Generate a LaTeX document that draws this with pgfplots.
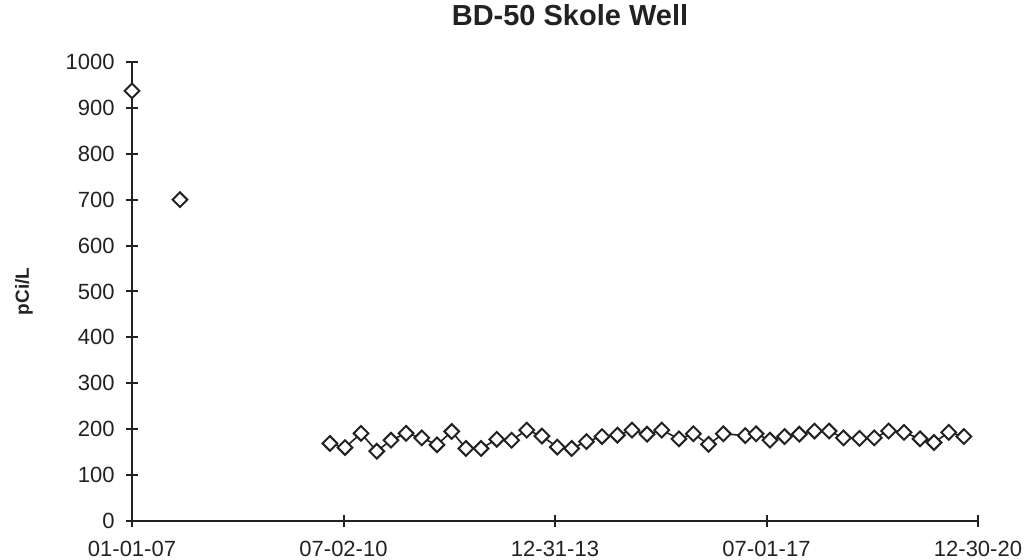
\documentclass[border=0pt]{standalone}
\usepackage{fontspec}
\setmainfont{Liberation Sans}
\usepackage{pgfplots}
\pgfplotsset{compat=1.18}

% days since 01-01-07
\pgfplotstableread{
d v
0 937
290 700
}\early
\pgfplotstableread{
d v
1196 169
1287 160
1384 191
1479 152
1565 176
1656 191
1751 181
1843 166
1932 195
2018 158
2109 158
2204 178
2294 176
2385 198
2477 185
2570 161
2657 158
2746 173
2840 184
2933 187
3021 198
3112 189
3201 198
3305 179
3392 190
3484 167
3573 190
3706 186
3771 190
3855 176
3943 184
4032 189
4124 196
4212 196
4299 181
4396 180
4485 181
4572 196
4665 193
4762 179
4846 171
4935 193
5027 184
}\later

\definecolor{ink}{HTML}{222222}

\begin{document}
\begin{tikzpicture}
\path[use as bounding box] (-66pt,-19.5pt) rectangle (446pt,260.5pt);
\begin{axis}[
    at={(0pt,0pt)}, anchor=south west,
    scale only axis,
    width=423pt, height=229.5pt,
    xmin=0, xmax=5112,
    ymin=0, ymax=1000,
    axis lines=left,
    axis line style={-, line width=1pt, ink},
    tick align=center,
    major tick length=6.3pt,
    tick style={line width=1pt, ink},
    xtick={0,1278,2556,3834,5112},
    xticklabels={01-01-07,07-02-10,12-31-13,07-01-17,12-30-20},
    ytick={0,100,...,1000},
    /pgf/number format/assume math mode=true,
    /pgf/number format/set thousands separator={},
    ticklabel style={font=\fontsize{11}{13}\selectfont, text=ink},
    yticklabel style={xshift=-2pt},
    xticklabel style={yshift=-3.5pt},
    ylabel={pCi/L},
    ylabel style={at={(axis description cs:-0.1277,0.5)}, anchor=center,
        font=\bfseries\fontsize{9.5}{11}\selectfont, text=ink},
    title={BD-50 Skole Well},
    title style={at={(0.5,1)}, anchor=base, yshift=12pt, xshift=7.5pt,
        font=\bfseries\fontsize{14.5}{17}\selectfont, text=ink},
    clip=false,
]
\addplot[only marks, mark=square*, mark size=2.6pt,
    mark options={rotate=45, fill=white, draw=ink, line width=1pt}]
    table[x=d, y=v] {\early};
\addplot[ink, line width=0.8pt, mark=square*, mark size=2.6pt,
    mark options={rotate=45, fill=white, draw=ink, line width=1pt}]
    table[x=d, y=v] {\later};
\end{axis}
\end{tikzpicture}
\end{document}
